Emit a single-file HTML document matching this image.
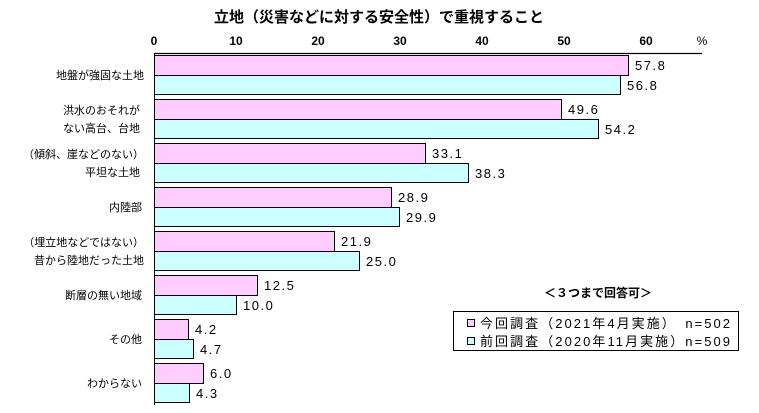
<!DOCTYPE html>
<html><head><meta charset="utf-8"><style>
body{margin:0;background:#fff}
svg{display:block;font-family:"Liberation Sans","Noto Sans CJK JP",sans-serif}
</style></head><body>
<svg width="759" height="413" viewBox="0 0 759 413">
<text x="379" y="22" font-size="15" font-weight="bold" text-anchor="middle">立地（災害などに対する安全性）で重視すること</text>
<g font-size="12" font-weight="bold" text-anchor="middle">
<text x="154" y="45">0</text><text x="236" y="45">10</text><text x="318" y="45">20</text><text x="400" y="45">30</text><text x="482" y="45">40</text><text x="564" y="45">50</text><text x="646" y="45">60</text>
<text x="702" y="45" font-weight="normal">%</text></g>
<line x1="154" y1="53.5" x2="702" y2="53.5" stroke="#000" stroke-width="1.2"/>
<line x1="154.5" y1="53" x2="154.5" y2="405" stroke="#000" stroke-width="1"/>
<g stroke="#000" stroke-width="1">
<rect x="154.5" y="55.5" width="474" height="20" fill="#ffccff"/><rect x="154.5" y="75.5" width="466" height="19" fill="#ccffff"/>
<rect x="154.5" y="99.5" width="407" height="20" fill="#ffccff"/><rect x="154.5" y="119.5" width="444" height="19" fill="#ccffff"/>
<rect x="154.5" y="143.5" width="271" height="20" fill="#ffccff"/><rect x="154.5" y="163.5" width="314" height="19" fill="#ccffff"/>
<rect x="154.5" y="187.5" width="237" height="20" fill="#ffccff"/><rect x="154.5" y="207.5" width="245" height="19" fill="#ccffff"/>
<rect x="154.5" y="231.5" width="180" height="20" fill="#ffccff"/><rect x="154.5" y="251.5" width="205" height="19" fill="#ccffff"/>
<rect x="154.5" y="275.5" width="103" height="20" fill="#ffccff"/><rect x="154.5" y="295.5" width="82" height="19" fill="#ccffff"/>
<rect x="154.5" y="319.5" width="34" height="20" fill="#ffccff"/><rect x="154.5" y="339.5" width="39" height="19" fill="#ccffff"/>
<rect x="154.5" y="363.5" width="49" height="20" fill="#ffccff"/><rect x="154.5" y="383.5" width="35" height="19" fill="#ccffff"/>
</g>
<g font-size="13" letter-spacing="1.5">
<text x="635" y="70">57.8</text><text x="627" y="90">56.8</text>
<text x="568" y="114">49.6</text><text x="605" y="134">54.2</text>
<text x="432" y="158">33.1</text><text x="475" y="178">38.3</text>
<text x="398" y="202">28.9</text><text x="406" y="222">29.9</text>
<text x="341" y="246">21.9</text><text x="366" y="266">25.0</text>
<text x="264" y="290">12.5</text><text x="243" y="310">10.0</text>
<text x="195" y="334">4.2</text><text x="200" y="354">4.7</text>
<text x="210" y="378">6.0</text><text x="196" y="398">4.3</text>
</g>
<g font-size="11" text-anchor="end">
<text x="144" y="79">地盤が強固な土地</text>
<text x="140" y="114">洪水のおそれが</text><text x="140" y="132">ない高台、台地</text>
<text x="144" y="158">（傾斜、崖などのない）</text><text x="140" y="176">平坦な土地</text>
<text x="142" y="211">内陸部</text>
<text x="144" y="246">（埋立地などではない）</text><text x="144" y="264">昔から陸地だった土地</text>
<text x="142" y="299">断層の無い地域</text>
<text x="142" y="343">その他</text>
<text x="142" y="387">わからない</text>
</g>
<text x="598" y="297" font-size="12" font-weight="bold" text-anchor="middle">＜３つまで回答可＞</text>
<rect x="453.5" y="311.5" width="285" height="39" fill="#fff" stroke="#000" stroke-width="1"/>
<rect x="467.5" y="319.5" width="7" height="7" fill="#ffccff" stroke="#000"/>
<rect x="467.5" y="337.5" width="7" height="7" fill="#ccffff" stroke="#000"/>
<text x="480" y="328" font-size="13" textLength="250" lengthAdjust="spacing">今回調査（2021年4月実施）　n=502</text>
<text x="480" y="346" font-size="13" textLength="250" lengthAdjust="spacing">前回調査（2020年11月実施）n=509</text>
</svg>
</body></html>
